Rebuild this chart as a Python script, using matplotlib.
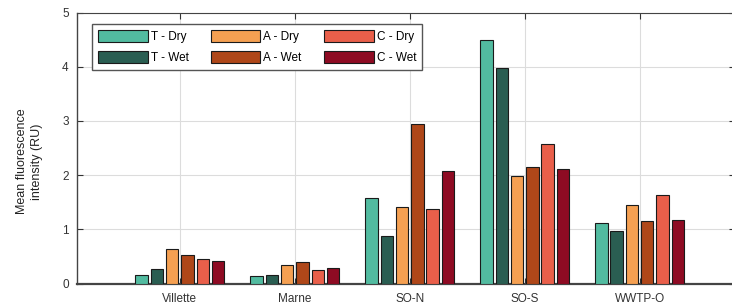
import matplotlib
matplotlib.use("Agg")
import matplotlib.pyplot as plt
import numpy as np

plt.rcParams.update({"font.family": ["Liberation Sans", "DejaVu Sans"], "font.size": 8})

sites = ["Villette", "Marne", "SO-N", "SO-S", "WWTP-O"]
series = ["T - Dry", "T - Wet", "A - Dry", "A - Wet", "C - Dry", "C - Wet"]
colors = ["#52BBA0", "#2A5E52", "#F5A052", "#AF4719", "#E95F4A", "#8E0B23"]
t_dry = [0.16, 0.13, 1.58, 4.50, 1.11]
t_wet = [0.27, 0.16, 0.88, 3.97, 0.97]
a_dry = [0.64, 0.34, 1.42, 1.99, 1.45]
a_wet = [0.52, 0.39, 2.94, 2.15, 1.16]
c_dry = [0.46, 0.25, 1.37, 2.57, 1.64]
c_wet = [0.41, 0.29, 2.08, 2.12, 1.18]
vals = [t_dry, t_wet, a_dry, a_wet, c_dry, c_wet]

fig = plt.figure(figsize=(7.32, 3.04), dpi=100)
ax = fig.add_axes([77/732, 1-283.5/304, (735-77)/732, (283.5-12.5)/304])
x = np.arange(1, 6); pitch = 0.133; w = 0.108
handles = []
for i, (v, c) in enumerate(zip(vals, colors)):
    b = ax.bar(x + (i-2.5)*pitch, v, w, color=c, edgecolor="#1a1a1a", linewidth=0.8, label=series[i], zorder=3)
    handles.append(b)

ax.set_xlim(0.105, 5.83); ax.set_ylim(0, 5)
ax.set_xticks(x); ax.set_xticklabels(sites, fontsize=8.5, color="#333333")
ax.set_yticks(range(6)); ax.tick_params(labelsize=8.5, colors="#333333")
ax.tick_params(direction="in", length=4, top=True, right=True, width=0.8)
ax.tick_params(axis="x", pad=7)
ax.tick_params(axis="y", pad=6)
ax.grid(True, color="#DCDCDC", linewidth=0.8, zorder=0)
for s in ["left", "bottom"]:
    ax.spines[s].set_color("#444444"); ax.spines[s].set_linewidth(1.0)
ax.spines["bottom"].set_linewidth(1.6)
ax.spines["top"].set_color("#444444"); ax.spines["top"].set_linewidth(0.8)
ax.spines["right"].set_visible(False)
ax.set_ylabel("Mean fluorescence\nintensity (RU)", fontsize=9, color="#222222", linespacing=1.35)
ax.yaxis.set_label_coords(-0.051, 0.45)

leg = ax.legend(handles, series, ncol=3,
          loc="upper left", bbox_to_anchor=(15/655, 1-11.5/271), borderaxespad=0, fontsize=8.5, frameon=True,
          fancybox=False, edgecolor="#555555", handlelength=4.2, handleheight=1.2,
          columnspacing=1.9, handletextpad=0.25, borderpad=0.5, labelspacing=0.7, framealpha=1)
leg.get_frame().set_linewidth(1.0)

fig.savefig("out.png", dpi=100, facecolor="white")
